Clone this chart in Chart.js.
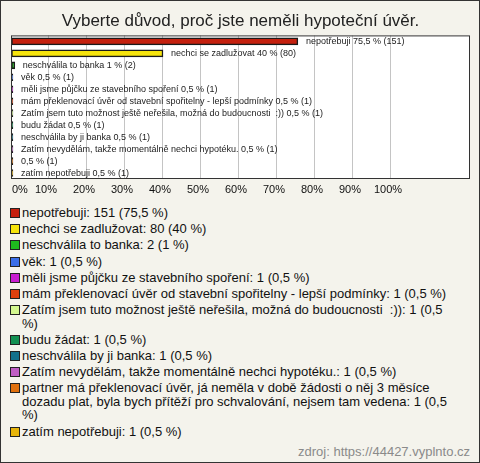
<!DOCTYPE html>
<html>
<head>
<meta charset="utf-8">
<script src="https://cdn.jsdelivr.net/npm/chart.js@4"></script>
<style>
  body { margin: 0; }
  #frame {
    position: relative;
    width: 478px; height: 461px;
    border: 1px solid #333;
    background: #f4f3ec;
    font-family: "Liberation Sans", Arial, sans-serif;
    color: #111;
  }
  #myChart { display: block; }
  #legend { list-style: none; margin: 7px 0 0 0; padding: 0 0 0 9px; width: 452px; }
  #legend li { display: flex; align-items: flex-start; font-size: 13px; line-height: 13.5px; margin-bottom: 2.7px; white-space: pre-wrap; }
  #legend .box { flex: none; width: 8px; height: 8px; border: 1px solid #222; margin: 2px 2px 0 0; }
  #source { position: absolute; right: 9px; bottom: 3px; font-size: 13px; color: #8a8a8a; }
</style>
</head>
<body>
<div id="frame">
  <canvas id="myChart" width="478" height="198"></canvas>
  <ul id="legend"></ul>
  <div id="source">zdroj: https://44427.vyplnto.cz</div>
</div>
<script>
const title = 'Vyberte důvod, proč jste neměli hypoteční úvěr.';
const categories = [
  'nepotřebuji',
  'nechci se zadlužovat',
  'neschválila to banka',
  'věk',
  'měli jsme půjčku ze stavebního spoření',
  'mám překlenovací úvěr od stavební spořitelny - lepší podmínky',
  'Zatím jsem tuto možnost ještě neřešila, možná do budoucnosti  :))',
  'budu žádat',
  'neschválila by ji banka',
  'Zatím nevydělám, takže momentálně nechci hypotéku.',
  'partner má překlenovací úvěr, já neměla v době žádosti o něj 3 měsíce dozadu plat, byla bych přítěží pro schvalování, nejsem tam vedena',
  'zatím nepotřebuji'
];
// short names printed next to the bars (the long one is left out)
const barNames = [
  'nepotřebuji',
  'nechci se zadlužovat',
  'neschválila to banka',
  'věk',
  'měli jsme půjčku ze stavebního spoření',
  'mám překlenovací úvěr od stavební spořitelny - lepší podmínky',
  'Zatím jsem tuto možnost ještě neřešila, možná do budoucnosti  :))',
  'budu žádat',
  'neschválila by ji banka',
  'Zatím nevydělám, takže momentálně nechci hypotéku.',
  '',
  'zatím nepotřebuji'
];
const counts = [151, 80, 2, 1, 1, 1, 1, 1, 1, 1, 1, 1];
const percents = [75.5, 40, 1, 0.5, 0.5, 0.5, 0.5, 0.5, 0.5, 0.5, 0.5, 0.5];
const colors = [
  '#c4200e', '#f6e40c', '#1eb81e', '#3a6ee8', '#c81ed0', '#e0400e',
  '#d4f890', '#129052', '#12708c', '#c05ec4', '#e0700e', '#e6b40a'
];
const tickValues = [0, 10, 20, 30, 40, 50, 60, 70, 80, 90, 100];

const FONT = '"Liberation Sans", Arial, sans-serif';

function fmt(v) {
  return String(v).replace('.', ',');
}

// legend below the chart
const legend = document.getElementById('legend');
categories.forEach((name, i) => {
  const li = document.createElement('li');
  const box = document.createElement('span');
  box.className = 'box';
  box.style.background = colors[i];
  const txt = document.createElement('span');
  txt.textContent = name + ': ' + counts[i] + ' (' + fmt(percents[i]) + ' %)';
  li.appendChild(box);
  li.appendChild(txt);
  legend.appendChild(li);
});

const plotFrame = {
  id: 'plotFrame',
  beforeDraw(chart) {
    const a = chart.chartArea;
    const ctx = chart.ctx;
    ctx.save();
    ctx.fillStyle = '#fff';
    ctx.fillRect(a.left, a.top, a.right - a.left, a.bottom - a.top);
    ctx.restore();
  },
  afterDraw(chart) {
    const a = chart.chartArea;
    const ctx = chart.ctx;
    ctx.save();
    ctx.strokeStyle = '#333';
    ctx.lineWidth = 1;
    ctx.strokeRect(a.left + 0.5, a.top + 0.5, a.right - a.left - 1, a.bottom - a.top - 1);
    // x tick labels, a bit left of the grid line (first one starts at it)
    const x = chart.scales.x;
    ctx.font = '11px ' + FONT;
    ctx.fillStyle = '#111';
    ctx.textBaseline = 'middle';
    tickValues.forEach((v, i) => {
      ctx.textAlign = i === 0 ? 'left' : 'center';
      ctx.fillText(v + '%', x.getPixelForValue(v) + (i === 0 ? 1 : -3), a.bottom + 11);
    });
    ctx.restore();
  }
};

const barLabels = {
  id: 'barLabels',
  afterDatasetsDraw(chart) {
    const ctx = chart.ctx;
    const meta = chart.getDatasetMeta(0);
    ctx.save();
    ctx.font = '9px ' + FONT;
    ctx.fillStyle = '#222';
    ctx.textAlign = 'left';
    ctx.textBaseline = 'middle';
    meta.data.forEach((bar, i) => {
      const name = barNames[i] ? barNames[i] + ' ' : '';
      ctx.fillText(name + fmt(percents[i]) + ' % (' + counts[i] + ')', bar.x + 8, bar.y);
    });
    ctx.restore();
  }
};

const ctx = document.getElementById('myChart').getContext('2d');
const myChart = new Chart(ctx, {
  type: 'bar',
  data: {
    labels: categories,
    datasets: [
      {
        data: percents,
        backgroundColor: colors,
        borderColor: '#1a1a1a',
        borderWidth: 1.5,
        borderSkipped: false,
        barThickness: 7
      }
    ]
  },
  options: {
    indexAxis: 'y',
    responsive: false,
    animation: false,
    layout: { padding: { left: 10, right: 9, top: 0, bottom: 20 } },
    plugins: {
      legend: { display: false },
      tooltip: { enabled: false },
      title: {
        display: true,
        text: title,
        color: '#222',
        font: { family: FONT, size: 17, weight: 'normal' },
        padding: { top: 10, bottom: 4 }
      }
    },
    scales: {
      x: {
        min: 0,
        max: 120.8,
        afterBuildTicks: axis => {
          axis.ticks = tickValues.map(v => ({ value: v }));
        },
        ticks: { display: false },
        grid: { color: '#c4c4c4', drawTicks: false },
        border: { display: false }
      },
      y: {
        display: false
      }
    }
  },
  plugins: [plotFrame, barLabels]
});
</script>
</body>
</html>
